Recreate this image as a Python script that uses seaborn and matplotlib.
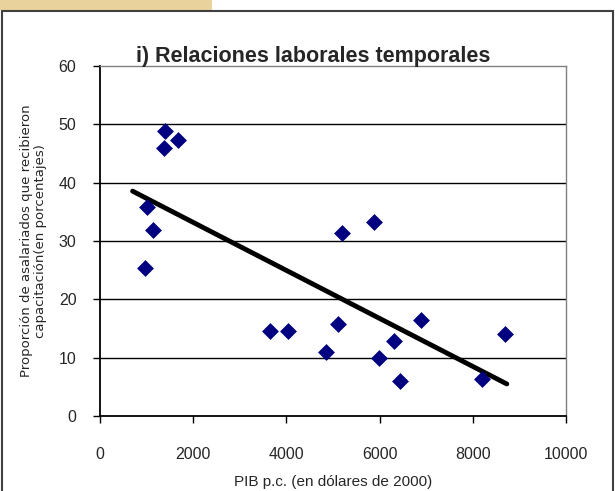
import seaborn as sns
import matplotlib.pyplot as plt
import matplotlib.patches as mpatches
import numpy as np
import pandas as pd

# Datos (PIB p.c. vs proporcion con capacitacion)
pib = [1395, 1373, 1680, 1002, 1131, 966, 3648, 4041, 4850, 5114, 5186,
       5880, 5987, 6309, 6438, 6888, 8204, 8691]
capacitacion = [48.8, 46.0, 47.3, 35.9, 31.9, 25.4, 14.5, 14.5, 10.9, 15.7, 31.4,
                33.3, 10.0, 12.8, 6.0, 16.5, 6.4, 14.1]
tendencia_x = [700, 8730]  # extension de la linea de tendencia
xticks = [0, 2000, 4000, 6000, 8000, 10000]
yticks = [0, 10, 20, 30, 40, 50, 60]

df = pd.DataFrame({'pib': pib, 'cap': capacitacion})

sns.set_style('white')
plt.rcParams['font.family'] = ['Liberation Sans', 'DejaVu Sans']

fig = plt.figure(figsize=(6.15, 4.91), dpi=100)
ax = fig.add_axes([0.1626, 0.1527, 0.7577, 0.7129])

# marco exterior y barra de color arriba a la izquierda
fig.patches.append(mpatches.Rectangle((0, 0.98), 0.345, 0.03, transform=fig.transFigure,
                                      facecolor='#EAD29C', edgecolor='none', zorder=0))
fig.patches.append(mpatches.Rectangle((0.004, -0.02), 0.992, 0.997, transform=fig.transFigure,
                                      facecolor='none', edgecolor='#404040', linewidth=1.5))

for y in yticks[1:-1]:
    ax.axhline(y, color='black', linewidth=1, zorder=1)

# linea de tendencia (minimos cuadrados)
pend, orden = np.polyfit(df['pib'], df['cap'], 1)
tx = np.array(tendencia_x)
sns.lineplot(x=tx, y=pend * tx + orden, color='black', linewidth=3.5, zorder=2, ax=ax)
sns.scatterplot(data=df, x='pib', y='cap', marker='D', s=65, color='#000080',
                edgecolor='#000080', linewidth=0.5, zorder=3, ax=ax)

ax.set_xlim(0, 10000)
ax.set_ylim(0, 60)
ax.set_xticks(xticks)
ax.set_yticks(yticks)
ax.tick_params(axis='both', direction='out', length=5, width=1, color='black',
               labelsize=11.5, bottom=True, left=True)
ax.tick_params(axis='x', pad=17)
ax.tick_params(axis='y', pad=12)

for s in ['left', 'bottom']:
    ax.spines[s].set_color('black')
    ax.spines[s].set_linewidth(1.3)
for s in ['top', 'right']:
    ax.spines[s].set_color('#808080')
    ax.spines[s].set_linewidth(1)

ax.set_xlabel('PIB p.c. (en dólares de 2000)', fontsize=11, labelpad=10)
ax.set_ylabel('Proporción de asalariados que recibieron\ncapacitación(en porcentajes)',
              fontsize=9.5, family=['DejaVu Sans'], labelpad=8, linespacing=1.1)
ax.set_title('i) Relaciones laborales temporales', fontsize=15.5, fontweight='bold',
             pad=3, x=0.458)

fig.savefig('out.png', dpi=100)
